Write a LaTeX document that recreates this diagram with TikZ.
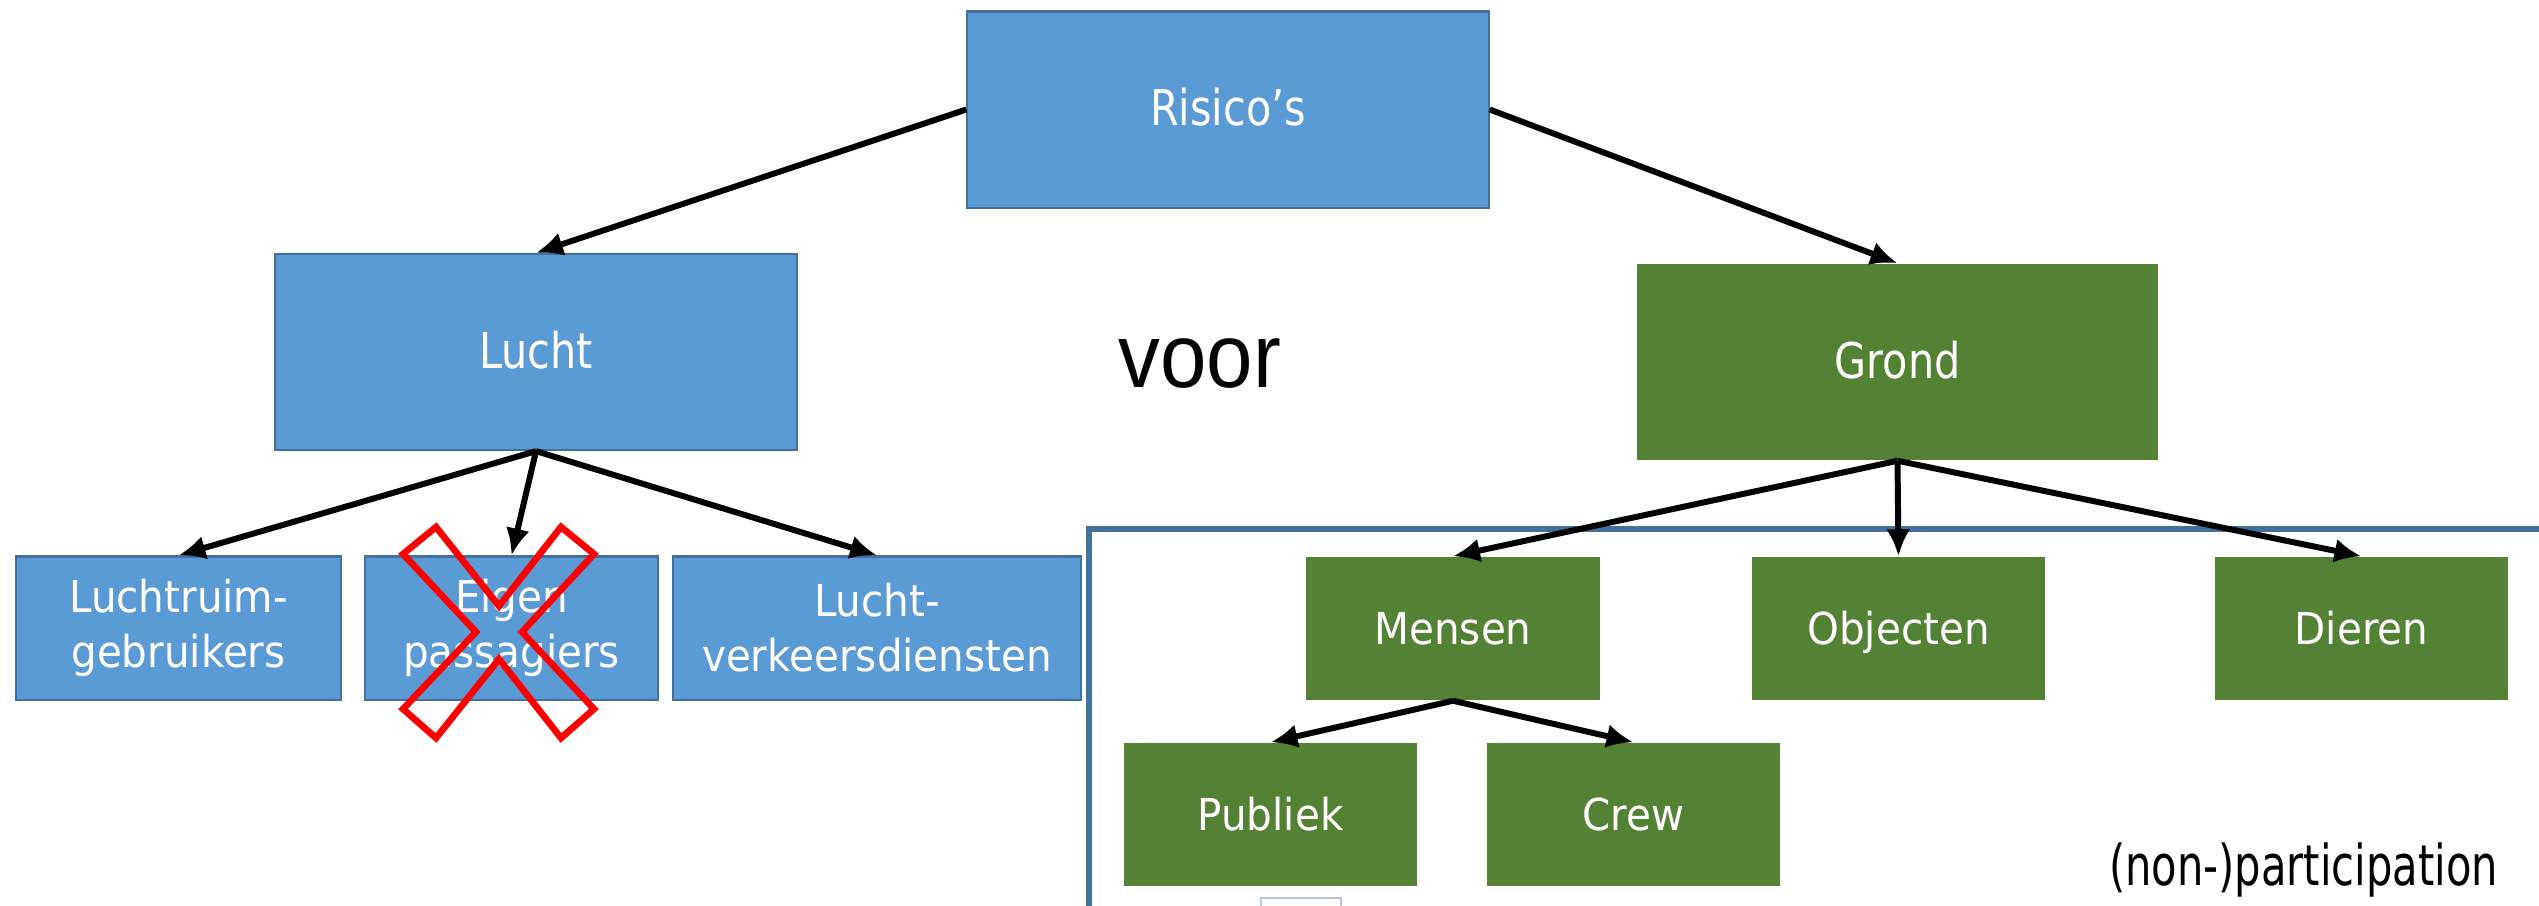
\documentclass[tikz,border=0pt]{standalone}
\usepackage{fontspec}
\setmainfont{DejaVu Sans}
\newfontfamily\topfont[FakeStretch=0.84]{DejaVu Sans}
\newfontfamily\subfont[FakeStretch=0.92]{DejaVu Sans}
\newfontfamily\notefont[FakeStretch=0.74]{DejaVu Sans}
\newfontfamily\voorfont[FakeStretch=0.92]{Liberation Sans}
\usepackage{tikz}
\usetikzlibrary{
  arrows.meta,%
  calc
}
\tikzset{>={Latex[length=0.27cm, width=0.24cm]}}
\definecolor{boxblue}{HTML}{5B9BD5}
\definecolor{edgeblue}{HTML}{41719C}
\definecolor{boxgreen}{HTML}{548235}
\definecolor{frameblue}{HTML}{41719C}
\definecolor{framegray}{HTML}{BCC6D6}
\tikzset{
  bluebox/.style={draw=edgeblue, line width=0.6pt, fill=boxblue, text=white,
    align=center, inner sep=0pt},
  greenbox/.style={fill=boxgreen, text=white, align=center, inner sep=0pt},
  % one line of text, set a bit under the middle
  oneline/.style={text height=0.93em, text depth=0pt},
  topsize/.style={minimum width=5.21cm, minimum height=1.96cm, oneline,
    font=\topfont\fontsize{14}{17}\selectfont},
  subsize/.style={minimum width=2.93cm, minimum height=1.43cm,
    font=\subfont\fontsize{12.5}{15.6}\selectfont},
  treearrow/.style={->, line width=1.7pt},
}

\begin{document}
\begin{tikzpicture}[x=0.01cm, y=-0.01cm]
  \useasboundingbox (0,0) rectangle (2539,905);%
  % frame round the ground part
  \draw[framegray, line width=0.6pt, fill=white] (1261,898) rectangle (1341,915);%
  \draw[frameblue, line width=1.5pt] (1089,910) -- (1089,529) -- (2545,529);%
  % boxes
  \node[bluebox, topsize] (risicos) at (1228,109.5) {Risico’s};%
  \node[bluebox, topsize] (lucht) at (536,352) {Lucht};%
  \node[greenbox, topsize] (grond) at (1897.5,362) {Grond};%
  \node[bluebox, subsize, minimum width=3.25cm] (gebruikers) at (178.5,628) {Luchtruim-\\gebruikers};%
  \node[bluebox, subsize] (passagiers) at (511.5,628) {Eigen\\passagiers};%
  \node[bluebox, subsize, minimum width=4.08cm] (diensten) at (877,628) {Lucht-\\verkeersdiensten};%
  \node[greenbox, subsize, oneline] (mensen) at (1453,628.5) {Mensen};%
  \node[greenbox, subsize, oneline] (objecten) at (1898.5,628.5) {Objecten};%
  \node[greenbox, subsize, oneline] (dieren) at (2361.5,628.5) {Dieren};%
  \node[greenbox, subsize, oneline] (publiek) at (1270.5,814.5) {Publiek};%
  \node[greenbox, subsize, oneline] (crew) at (1633.5,814.5) {Crew};%
  % loose texts
  \node[anchor=base, font=\voorfont\fontsize{25.8}{30}\selectfont] (voor) at (1200,387) {voor};%
  \node[anchor=base, font=\notefont\fontsize{16}{19}\selectfont] (note) at (2303.5,885) {(non-)participation};%
  % arrows
  \draw[treearrow] (risicos.west) -- (lucht.north);%
  \draw[treearrow] (risicos.east) -- (grond.north);%
  \draw[treearrow] (lucht.south) -- (gebruikers.north);%
  \draw[treearrow] (lucht.south) -- (passagiers.north);%
  \draw[treearrow] (lucht.south) -- (diensten.north);%
  \draw[treearrow] (grond.south) -- (mensen.north);%
  \draw[treearrow] (grond.south) -- (objecten.north);%
  \draw[treearrow] (grond.south) -- (dieren.north);%
  \draw[treearrow] (mensen.south) -- (publiek.north);%
  \draw[treearrow] (mensen.south) -- (crew.north);%
  % cross over the own passengers
  \draw[red, line width=1.9pt, line join=miter] (436,527) -- (499,606) -- (561,527) -- (594,554)
    -- (522,632) -- (594,709) -- (561,738) -- (499,659) -- (436,738) -- (403,709)
    -- (476,632) -- (403,554) -- cycle;%
\end{tikzpicture}
\end{document}
